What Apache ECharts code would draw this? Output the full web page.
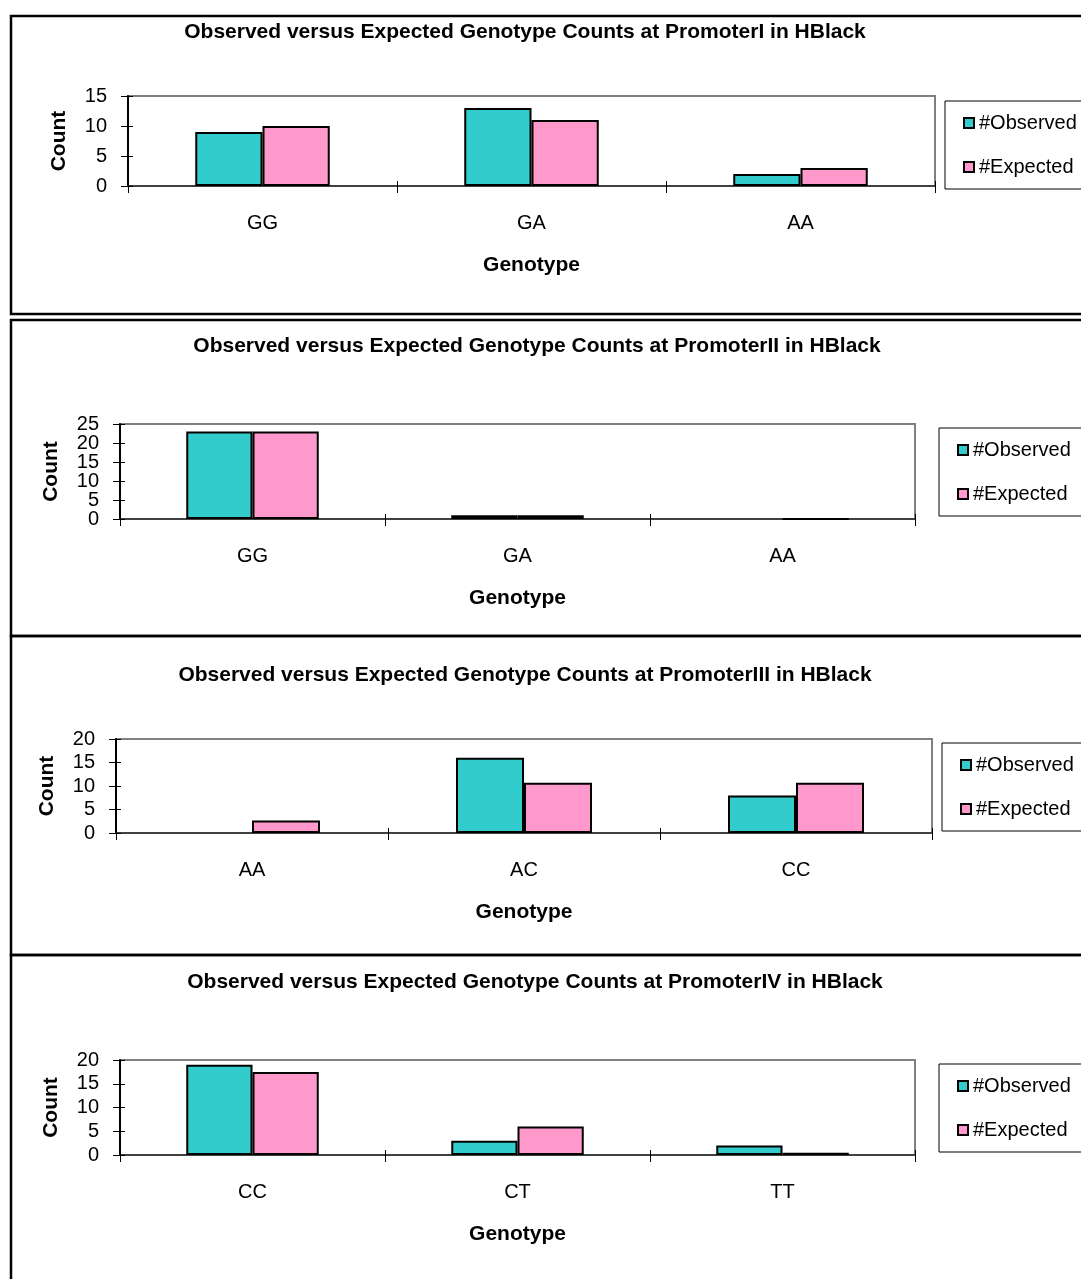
<!DOCTYPE html>
<html><head><meta charset="utf-8">
<script src="https://cdn.jsdelivr.net/npm/echarts@6/dist/echarts.min.js"></script>
<style>html,body{margin:0;padding:0;background:#fff}#c{width:1081px;height:1279px}</style>
</head><body><div id="c"></div>
<script>
// ---- data ----
const chartTitles = [
  'Observed versus Expected Genotype Counts at PromoterI in HBlack',
  'Observed versus Expected Genotype Counts at PromoterII in HBlack',
  'Observed versus Expected Genotype Counts at PromoterIII in HBlack',
  'Observed versus Expected Genotype Counts at PromoterIV in HBlack'
];
const categories1 = ['GG', 'GA', 'AA'];
const categories2 = ['GG', 'GA', 'AA'];
const categories3 = ['AA', 'AC', 'CC'];
const categories4 = ['CC', 'CT', 'TT'];
const observed1 = [9, 13, 2];
const expected1 = [10, 11, 3];
const observed2 = [23, 1, 0];
const expected2 = [23, 0.98, 0.01];
const observed3 = [0, 16, 8];
const expected3 = [2.67, 10.67, 10.67];
const observed4 = [19, 3, 2];
const expected4 = [17.5, 6, 0.5];
const yTicks1 = [0, 5, 10, 15];
const yTicks2 = [0, 5, 10, 15, 20, 25];
const yTicks3 = [0, 5, 10, 15, 20];
const yTicks4 = [0, 5, 10, 15, 20];
const seriesNames = ['#Observed', '#Expected'];

// ---- layout / style ----
const FONT = "'Liberation Sans', Arial, sans-serif";
const layout = [
  {grid: {left: 128, top: 96, width: 807, height: 90}, tx: 525, ty: 31, lg: {left: 945, top: 101}},
  {grid: {left: 120, top: 424, width: 795, height: 95}, tx: 537, ty: 345, lg: {left: 939, top: 428}},
  {grid: {left: 116, top: 739, width: 816, height: 94}, tx: 525, ty: 674, lg: {left: 942, top: 743}},
  {grid: {left: 120, top: 1060, width: 795, height: 95}, tx: 535, ty: 981, lg: {left: 939, top: 1064}}
];
const cats = [categories1, categories2, categories3, categories4];
const obs = [observed1, observed2, observed3, observed4];
const exps = [expected1, expected2, expected3, expected4];
const ticks = [yTicks1, yTicks2, yTicks3, yTicks4];
const colors = ['#33CCCC', '#FF99CC'];

const option = {
  animation: false,
  backgroundColor: '#fff',
  textStyle: {fontFamily: FONT},
  title: [], grid: [], xAxis: [], yAxis: [], series: [], legend: [],
  graphic: [
    {type: 'rect', shape: {x: 11, y: 16, width: 1100, height: 298}, style: {fill: 'none', stroke: '#000', lineWidth: 2.5}, z: 100},
    {type: 'rect', shape: {x: 11, y: 320, width: 1100, height: 316}, style: {fill: 'none', stroke: '#000', lineWidth: 2.5}, z: 100},
    {type: 'rect', shape: {x: 11, y: 636, width: 1100, height: 319}, style: {fill: 'none', stroke: '#000', lineWidth: 2.5}, z: 100},
    {type: 'rect', shape: {x: 11, y: 955, width: 1100, height: 400}, style: {fill: 'none', stroke: '#000', lineWidth: 2.5}, z: 100}
  ]
};

const zeroSafe = v => v === 0 ? {value: 0, itemStyle: {borderWidth: 0}} : v;
const labelStyle = {show: true, margin: 21, fontFamily: FONT, fontSize: 20, color: '#000',
  hideOverlap: false, showMinLabel: true, showMaxLabel: true};

layout.forEach((p, i) => {
  const t = ticks[i];
  const yMin = t[0], yMax = t[t.length - 1], yStep = t[1] - t[0];
  option.title.push({
    text: chartTitles[i], left: p.tx, top: p.ty + 1, textAlign: 'center', textVerticalAlign: 'middle',
    padding: 0,
    textStyle: {fontFamily: FONT, fontSize: 21, fontWeight: 'bold', color: '#000'}
  });
  option.grid.push(Object.assign({show: true, borderColor: '#808080', borderWidth: 2, backgroundColor: '#fff', containLabel: false}, p.grid));
  option.xAxis.push({
    type: 'category', gridIndex: i, data: cats[i], position: 'bottom',
    name: 'Genotype', nameLocation: 'middle', nameGap: 69,
    nameTextStyle: {fontFamily: FONT, fontSize: 21, fontWeight: 'bold', color: '#000'},
    axisLine: {show: true, lineStyle: {color: '#404040', width: 2}},
    axisTick: {show: true, inside: false, length: 7, alignWithLabel: false, lineStyle: {color: '#000', width: 1}},
    axisLabel: {show: true, margin: 27, fontFamily: FONT, fontSize: 20, color: '#000'},
    splitLine: {show: false}
  });
  option.yAxis.push({
    type: 'value', gridIndex: i, min: yMin, max: yMax, interval: yStep, position: 'left',
    name: 'Count', nameLocation: 'middle', nameGap: 58, nameRotate: 90,
    nameTextStyle: {fontFamily: FONT, fontSize: 21, fontWeight: 'bold', color: '#000'},
    axisLine: {show: true, lineStyle: {color: '#000', width: 2}},
    axisTick: {show: true, inside: false, length: 7, lineStyle: {color: '#000', width: 1}},
    axisLabel: Object.assign({customValues: t.filter((v, j) => j % 2 === 0)}, labelStyle),
    splitLine: {show: false}
  });
  [obs[i], exps[i]].forEach((arr, k) => {
    option.series.push({
      type: 'bar', name: seriesNames[k], xAxisIndex: i, yAxisIndex: i,
      data: arr.map(zeroSafe), barGap: '0%', barCategoryGap: '50%',
      itemStyle: {color: colors[k], borderColor: '#000', borderWidth: 2}
    });
  });
  option.legend.push({
    data: seriesNames.map((n, k) => ({name: n, itemStyle: {color: colors[k], borderColor: '#000', borderWidth: 2}})),
    orient: 'vertical', left: p.lg.left, top: p.lg.top,
    icon: 'rect', itemWidth: 10, itemHeight: 10, itemGap: 24,
    padding: [12, 30, 12, 18], borderColor: '#000', borderWidth: 1, backgroundColor: '#fff',
    selectedMode: false,
    textStyle: {fontFamily: FONT, fontSize: 20, color: '#000'}
  });
});
// helper axes: inner half of the crossing tick marks, and the alternate tick labels
layout.forEach((p, i) => {
  const t = ticks[i];
  const yMin = t[0], yMax = t[t.length - 1], yStep = t[1] - t[0];
  option.xAxis.push({
    type: 'category', gridIndex: i, data: cats[i], position: 'bottom',
    axisLine: {show: false}, axisLabel: {show: false}, splitLine: {show: false},
    axisTick: {show: true, inside: true, length: 5, alignWithLabel: false, lineStyle: {color: '#000', width: 1}}
  });
  option.yAxis.push({
    type: 'value', gridIndex: i, min: yMin, max: yMax, interval: yStep, position: 'left',
    axisLine: {show: false}, splitLine: {show: false},
    axisLabel: Object.assign({customValues: t.filter((v, j) => j % 2 === 1)}, labelStyle),
    axisTick: {show: true, inside: true, length: 5, lineStyle: {color: '#000', width: 1}}
  });
});

const chart = echarts.init(document.getElementById('c'), null, {renderer: 'canvas'});
chart.setOption(option);
</script>
</body></html>
